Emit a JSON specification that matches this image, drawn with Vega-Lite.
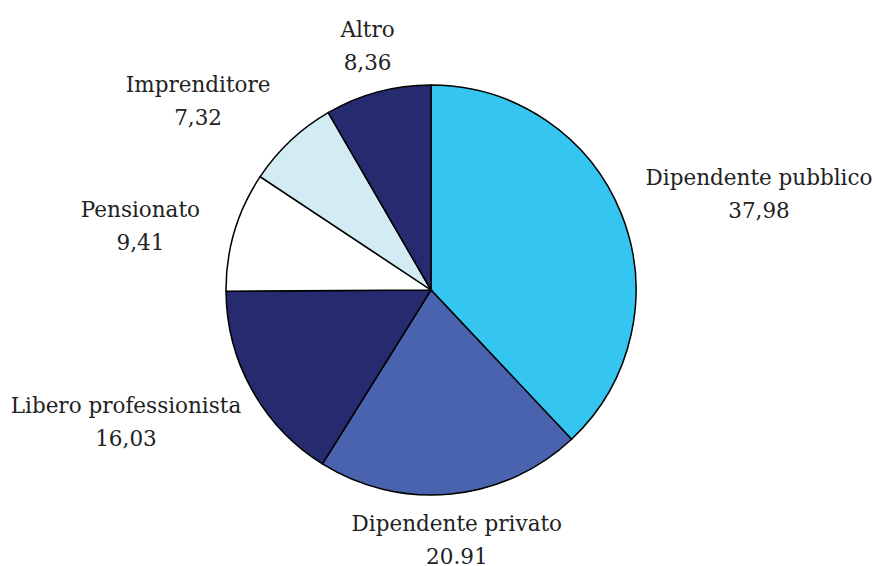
{
  "$schema": "https://vega.github.io/schema/vega-lite/v6.json",
  "width": 862,
  "height": 552,
  "padding": {"left": 0, "top": 14, "right": 13, "bottom": 0},
  "autosize": {"type": "none"},
  "background": "white",
  "view": {"stroke": null},
  "data": {
    "values": [
      {"ord": 1, "category": "Dipendente pubblico", "value": 37.98, "label": "Dipendente pubblico\n37,98"},
      {"ord": 2, "category": "Dipendente privato", "value": 20.91, "label": "Dipendente privato\n20.91"},
      {"ord": 3, "category": "Libero professionista", "value": 16.03, "label": "Libero professionista\n16,03"},
      {"ord": 4, "category": "Pensionato", "value": 9.41, "label": "Pensionato\n9,41"},
      {"ord": 5, "category": "Imprenditore", "value": 7.32, "label": "Imprenditore\n7,32"},
      {"ord": 6, "category": "Altro", "value": 8.36, "label": "Altro\n8,36"}
    ]
  },
  "encoding": {
    "theta": {"field": "value", "type": "quantitative", "stack": true},
    "order": {"field": "ord", "type": "quantitative"}
  },
  "layer": [
    {
      "mark": {"type": "arc", "outerRadius": 205, "stroke": "#000000", "strokeWidth": 1.5},
      "encoding": {
        "color": {
          "field": "category",
          "type": "nominal",
          "legend": null,
          "scale": {
            "domain": ["Dipendente pubblico", "Dipendente privato", "Libero professionista", "Pensionato", "Imprenditore", "Altro"],
            "range": ["#35C5F1", "#4A63AE", "#262A6F", "#FFFFFF", "#D3ECF4", "#262A6F"]
          }
        }
      }
    },
    {
      "mark": {"type": "text", "radius": 340, "dx": 12, "dy": 14, "align": "center", "baseline": "middle", "lineBreak": "\n", "lineHeight": 33, "font": "DejaVu Serif", "fontSize": 21.5, "color": "#222222"},
      "encoding": {"text": {"condition": {"test": "datum.ord == 1", "field": "label"}, "value": ""}}
    },
    {
      "mark": {"type": "text", "radius": 252, "dx": 1, "dy": -16, "align": "center", "baseline": "middle", "lineBreak": "\n", "lineHeight": 33, "font": "DejaVu Serif", "fontSize": 21.5, "color": "#222222"},
      "encoding": {"text": {"condition": {"test": "datum.ord == 2", "field": "label"}, "value": ""}}
    },
    {
      "mark": {"type": "text", "radius": 331, "dx": -16, "dy": -44, "align": "center", "baseline": "middle", "lineBreak": "\n", "lineHeight": 33, "font": "DejaVu Serif", "fontSize": 21.5, "color": "#222222"},
      "encoding": {"text": {"condition": {"test": "datum.ord == 3", "field": "label"}, "value": ""}}
    },
    {
      "mark": {"type": "text", "radius": 297, "dx": -6, "dy": 6, "align": "center", "baseline": "middle", "lineBreak": "\n", "lineHeight": 33, "font": "DejaVu Serif", "fontSize": 21.5, "color": "#222222"},
      "encoding": {"text": {"condition": {"test": "datum.ord == 4", "field": "label"}, "value": ""}}
    },
    {
      "mark": {"type": "text", "radius": 296, "dx": -30, "dy": 12, "align": "center", "baseline": "middle", "lineBreak": "\n", "lineHeight": 33, "font": "DejaVu Serif", "fontSize": 21.5, "color": "#222222"},
      "encoding": {"text": {"condition": {"test": "datum.ord == 5", "field": "label"}, "value": ""}}
    },
    {
      "mark": {"type": "text", "radius": 252, "dx": 2, "dy": -16, "align": "center", "baseline": "middle", "lineBreak": "\n", "lineHeight": 33, "font": "DejaVu Serif", "fontSize": 21.5, "color": "#222222"},
      "encoding": {"text": {"condition": {"test": "datum.ord == 6", "field": "label"}, "value": ""}}
    }
  ]
}
